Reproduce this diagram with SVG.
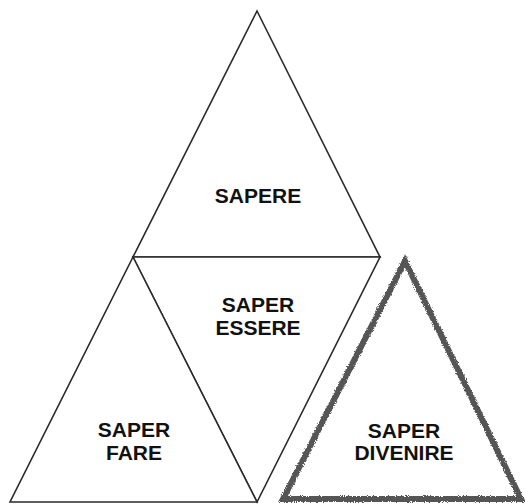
<svg xmlns="http://www.w3.org/2000/svg" width="525" height="504" viewBox="0 0 525 504">
<style>
.tri{fill:#fff;stroke:#2a2a2a;stroke-width:1.6;stroke-linejoin:miter}
.lbl{font-family:"Liberation Sans",Arial,sans-serif;font-weight:bold;font-size:21px;fill:#111;text-anchor:middle}
.rough{fill:#fff;stroke:#555;stroke-width:6;filter:url(#rough)}
</style>
<defs>
<filter id="rough" x="-5%" y="-5%" width="110%" height="110%">
<feTurbulence type="fractalNoise" baseFrequency="0.9" numOctaves="2" seed="3" result="n"/>
<feDisplacementMap in="SourceGraphic" in2="n" scale="3.5" xChannelSelector="R" yChannelSelector="G"/>
</filter>
</defs>
<rect width="525" height="504" fill="#fff"/>
<g id="connectors"></g>
<g id="sapere">
<polygon class="tri" points="257,11 380,257 133,257"/>
<text class="lbl" x="258" y="203">SAPERE</text>
</g>
<g id="saper-essere">
<polygon class="tri" points="133,257 380,257 257,502"/>
<text class="lbl" x="258" y="312">SAPER</text>
<text class="lbl" x="258" y="335">ESSERE</text>
</g>
<g id="saper-fare">
<polygon class="tri" points="133,257 257,502 10,502"/>
<text class="lbl" x="134" y="437">SAPER</text>
<text class="lbl" x="134" y="460">FARE</text>
</g>
<g id="saper-divenire">
<polygon class="rough" points="405,261 521,499 283,499"/>
<text class="lbl" x="404" y="438">SAPER</text>
<text class="lbl" x="404" y="460">DIVENIRE</text>
</g>
</svg>
